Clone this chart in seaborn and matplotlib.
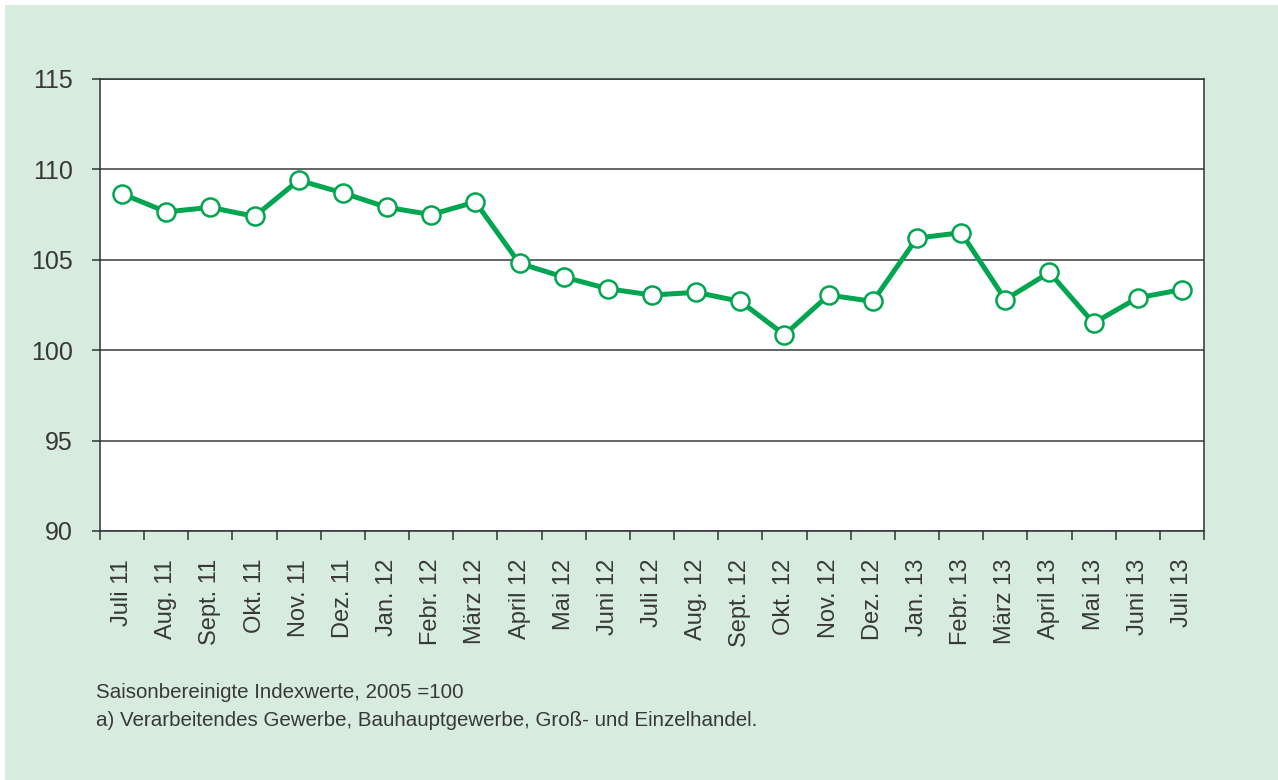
import matplotlib
matplotlib.use("Agg")
import matplotlib.pyplot as plt
import seaborn as sns
import pandas as pd
from matplotlib.patches import Rectangle
from matplotlib.ticker import FixedLocator, NullFormatter

months = ["Juli 11", "Aug. 11", "Sept. 11", "Okt. 11", "Nov. 11", "Dez. 11",
          "Jan. 12", "Febr. 12", "März 12", "April 12", "Mai 12", "Juni 12",
          "Juli 12", "Aug. 12", "Sept. 12", "Okt. 12", "Nov. 12", "Dez. 12",
          "Jan. 13", "Febr. 13", "März 13", "April 13", "Mai 13", "Juni 13", "Juli 13"]
values = [108.65, 107.65, 107.9, 107.4, 109.4, 108.7,
          107.9, 107.5, 108.2, 104.8, 104.05, 103.4,
          103.05, 103.2, 102.7, 100.85, 103.05, 102.7,
          106.2, 106.5, 102.8, 104.3, 101.5, 102.9, 103.35]
y_ticks = [90, 95, 100, 105, 110, 115]
note_lines = ["Saisonbereinigte Indexwerte, 2005 =100",
              "a) Verarbeitendes Gewerbe, Bauhauptgewerbe, Groß- und Einzelhandel."]

BG = "#d7ebde"
GREEN = "#00a54f"
TXT = "#383838"

sns.set_theme(style="white")
plt.rcParams["font.family"] = ["Liberation Sans", "DejaVu Sans"]

fig = plt.figure(figsize=(12.78, 7.8), dpi=100)
fig.patch.set_facecolor("white")
fig.patches.append(Rectangle((5 / 1278, 0), 1 - 5 / 1278, 1 - 5 / 780,
                             transform=fig.transFigure, facecolor=BG,
                             edgecolor="none", zorder=-10))

ax = fig.add_axes([100 / 1278, 1 - 531 / 780, 1104 / 1278, 452 / 780])
ax.set_facecolor("white")

df = pd.DataFrame({"Monat": months, "Index": values})
sns.lineplot(data=df, x="Monat", y="Index", sort=False, ax=ax,
             color=GREEN, linewidth=3.6, marker="o", markersize=13,
             markerfacecolor="white", markeredgecolor=GREEN,
             markeredgewidth=1.8, zorder=5)

ax.set_xlim(-0.5, len(months) - 0.5)
ax.set_ylim(90, 115)
ax.set_yticks(y_ticks)
ax.set_yticklabels([str(v) for v in y_ticks], fontsize=18, color=TXT)
ax.yaxis.grid(True, color="#3a3a3a", linewidth=1.1)
ax.set_axisbelow(True)

ax.set_xticks(range(len(months)))
ax.set_xticklabels(months, rotation=90, fontsize=17, color=TXT)
ax.xaxis.set_minor_locator(FixedLocator([i - 0.5 for i in range(len(months) + 1)]))
ax.xaxis.set_minor_formatter(NullFormatter())
ax.tick_params(axis="x", which="major", length=0, pad=20)
ax.tick_params(axis="x", which="minor", length=6.5, width=1.1, color="#333333",
               direction="out", bottom=True)
ax.tick_params(axis="y", which="major", length=5.5, width=1.1, color="#333333",
               direction="out", left=True, pad=14)

for side in ["left", "right", "bottom", "top"]:
    ax.spines[side].set_visible(True)
    ax.spines[side].set_color("#333333")
    ax.spines[side].set_linewidth(1.1)

ax.set_xlabel("")
ax.set_ylabel("")

fig.text(96 / 1278, 1 - 693 / 780, note_lines[0], fontsize=14.8, color=TXT, va="center")
fig.text(96 / 1278, 1 - 721 / 780, note_lines[1], fontsize=14.8, color=TXT, va="center")

fig.savefig("out.png", dpi=100, facecolor=fig.get_facecolor())
